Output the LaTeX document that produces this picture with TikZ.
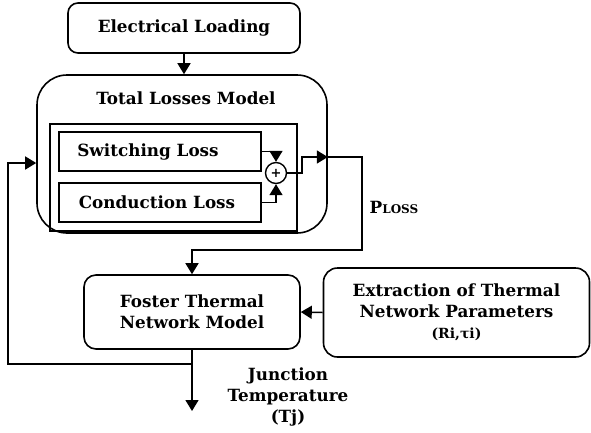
\documentclass[tikz,border=0pt]{standalone}
\usepackage{fontspec}
\setmainfont{DejaVu Serif}
\usetikzlibrary{arrows.meta,positioning,calc}
\tikzset{
  rbox/.style={rounded corners=#1, draw, line width=1.6pt, align=center,
               inner sep=2pt},
  sbox/.style={draw, line width=1.5pt, align=center, inner sep=2pt},
  flow/.style={-{Triangle[length=11pt,width=13pt]}, line width=1.5pt},
  lbl/.style={align=center, inner sep=1pt},
}
\newcommand{\lossfont}{\fontsize{16.8}{21}\selectfont\bfseries}

\begin{document}
\begin{tikzpicture}[x=1pt, y=-1pt, font=\lossfont]
\useasboundingbox (0,0) rectangle (591,432);

% blocks
\node[rbox=10pt, minimum width=232pt, minimum height=50pt] at (184,28) (load)
  {Electrical Loading};
\node[rbox=30pt, minimum width=290pt, minimum height=158pt] at (182,154) (total) {};
\node[lbl] at (186,98) (tlm) {Total Losses Model};
\node[sbox, minimum width=202pt, minimum height=39pt] at (160,151.5) (sw)
  {Switching Loss\hspace*{24pt}};
\node[sbox, minimum width=202pt, minimum height=39pt] at (160,202.5) (cd)
  {Conduction Loss\hspace*{6pt}};
\node[sbox, minimum width=247pt, minimum height=107pt] at (173.5,177.5) (inner) {};
\node[circle, draw, line width=1.4pt, minimum size=21pt, inner sep=0pt,
      font=\fontsize{13}{13}\selectfont\bfseries] at (276,173) (sum) {+};
\node[rbox=12pt, minimum width=216pt, minimum height=74pt] at (192,312) (foster)
  {Foster Thermal\\Network Model};
\node[rbox=14pt, minimum width=266pt, minimum height=89pt] at (456.5,312.5) (extr)
  {Extraction of Thermal\\Network Parameters\\{\fontsize{14}{15}\selectfont (Ri,τi)}};

% labels
\node[lbl] at (394,207) (ploss) {P{\fontsize{12}{12}\selectfont LOSS}};
\node[lbl] at (288,397) (tjl) {Junction\\Temperature\\(Tj)};

% turning points
\coordinate (sp) at (302,157);
\coordinate (pl) at (362,250);
\coordinate (jn) at (192,364);
\coordinate (tj) at (192,411);
\coordinate (fb) at (8,163);

% connectors
\draw[flow] (load.south) -- (load.south |- total.north);
\draw[flow] (sw.east) -| (sum.north);
\draw[flow] (cd.east) -| (sum.south);
\draw[flow] (sum.east) -| (sp) -- (sp -| total.east);
\draw[flow] (sp -| total.east) -| (pl) -| (foster.north);
\draw[flow] (extr.west) -- (foster.east);
\draw[flow] (foster.south) -- (tj);
\draw[flow] (jn) -| (fb) -- (fb -| total.west);
\end{tikzpicture}
\end{document}
